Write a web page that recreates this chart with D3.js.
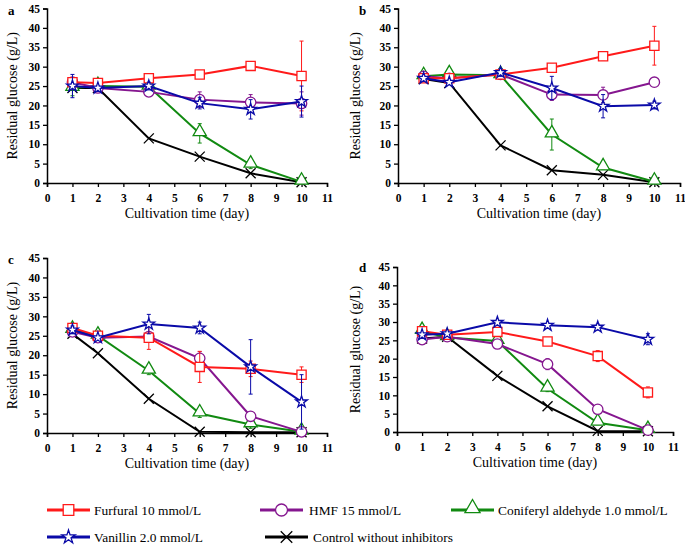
<!DOCTYPE html>
<html><head><meta charset="utf-8">
<script src="https://cdn.jsdelivr.net/npm/d3@7"></script>
<style>body{margin:0;background:#fff}svg{display:block}</style>
</head><body>
<script>
// ---- DATA ----
const days = [1, 2, 4, 6, 8, 10];
const xTicks = [0,1,2,3,4,5,6,7,8,9,10,11];
const yTicks = [0,5,10,15,20,25,30,35,40,45];
const panelLabels = ["a","b","c","d"];
const seriesNames = ["Furfural 10 mmol/L","HMF 15 mmol/L","Coniferyl aldehyde 1.0 mmol/L","Vanillin 2.0 mmol/L","Control without inhibitors"];

// panel a
const furfural_a = [26, 25.8, 27, 28, 30.2, 27.6];
const furfural_a_err = [1, 0.5, 1, 0.8, 0.5, 9];
const hmf_a = [26, 24.5, 23.5, 21.5, 20.8, 20.5];
const hmf_a_err = [1, 0.5, 0.5, 2, 2, 3];
const conif_a = [24.5, 25, 24.8, 12.8, 4.7, 0.3];
const conif_a_err = [2, 0.5, 0.5, 2.5, 1, 0.3];
const vanil_a = [25, 24.5, 25, 20.6, 19, 21];
const vanil_a_err = [3, 0.5, 1, 1.5, 2.5, 4];
const ctrl_a = [24.5, 24.5, 11.5, 6.8, 2.5, 0.2];

// panel b
const furfural_b = [27, 27, 28, 29.7, 32.7, 35.4];
const furfural_b_err = [1, 0.5, 0.5, 1, 1, 5];
const hmf_b = [27.5, 27, 28, 22.8, 22.7, 26];
const hmf_b_err = [1, 0.5, 0.5, 1.5, 2, 0.5];
const conif_b = [27.5, 28, 27.8, 12.5, 4, 0.3];
const conif_b_err = [0.5, 0.5, 0.5, 4, 0.5, 0.2];
const vanil_b = [27, 26, 28.5, 24.5, 19.8, 20.1];
const vanil_b_err = [0.5, 0.5, 1, 3, 3, 1];
const ctrl_b = [26.8, 25.8, 9.7, 3.3, 2.1, 0.2];

// panel c
const furfural_c = [27, 25, 24.5, 17, 16.5, 15];
const furfural_c_err = [1, 0.5, 3, 4, 2, 2];
const hmf_c = [26, 24.5, 24.8, 19.2, 4.3, 0.3];
const hmf_c_err = [0.5, 0.5, 0.5, 1.7, 1, 0.3];
const conif_c = [26.5, 25, 16, 5, 2.2, 0.3];
const conif_c_err = [1, 0.5, 1, 1, 1, 0.2];
const vanil_c = [26.5, 24.5, 28, 27, 17, 8];
const vanil_c_err = [1, 0.5, 2.5, 1.5, 7, 7];
const ctrl_c = [25.5, 20.5, 8.8, 0.3, 0.2, 0.2];

// panel d
const furfural_d = [27.5, 26.5, 27.3, 24.7, 20.7, 10.8];
const furfural_d_err = [0.5, 0.5, 0.5, 0.5, 1.5, 1.5];
const hmf_d = [25.2, 26, 24, 18.5, 6.2, 0.5];
const hmf_d_err = [0.5, 0.5, 0.5, 1.5, 0.5, 0.2];
const conif_d = [27.5, 25.8, 24.8, 11.8, 2.5, 0.5];
const conif_d_err = [0.5, 0.5, 0.5, 0.8, 0.5, 0.2];
const vanil_d = [26.5, 26.8, 29.9, 29.1, 28.6, 25.3];
const vanil_d_err = [0.5, 0.5, 0.5, 0.5, 0.8, 1.5];
const ctrl_d = [25.5, 26, 15.3, 7, 0.3, 0.2];

// ---- STYLE / LAYOUT ----
const colors = ["#ff1a1a", "#85168f", "#118a11", "#0a0aa8", "#000000"];
const symbols = ["square","circle","triangle","star","cross"];
const font = "'Liberation Serif','Times New Roman',serif";

const panels = [
  {x0:47, x1:327, yTop:8.5, yBot:183, lab:[8,15], ytx:12,
   s:[[furfural_a,furfural_a_err],[hmf_a,hmf_a_err],[conif_a,conif_a_err],[vanil_a,vanil_a_err],[ctrl_a,null]]},
  {x0:398, x1:680, yTop:8.5, yBot:183, lab:[359,15], ytx:355,
   s:[[furfural_b,furfural_b_err],[hmf_b,hmf_b_err],[conif_b,conif_b_err],[vanil_b,vanil_b_err],[ctrl_b,null]]},
  {x0:47, x1:327, yTop:258, yBot:433, lab:[8,264], ytx:12,
   s:[[furfural_c,furfural_c_err],[hmf_c,hmf_c_err],[conif_c,conif_c_err],[vanil_c,vanil_c_err],[ctrl_c,null]]},
  {x0:397, x1:673, yTop:267, yBot:432, lab:[359,272], ytx:355,
   s:[[furfural_d,furfural_d_err],[hmf_d,hmf_d_err],[conif_d,conif_d_err],[vanil_d,vanil_d_err],[ctrl_d,null]]}
];

const svg = d3.select("body").append("svg").attr("width",685).attr("height",546)
  .style("font-family", font);

function drawMarker(g, type, cx, cy, color, scale=1){
  if(type==="cross"){
    const h=5*scale;
    g.append("path").attr("d",`M${cx-h},${cy-h}L${cx+h},${cy+h}M${cx-h},${cy+h}L${cx+h},${cy-h}`)
      .attr("stroke",color).attr("stroke-width",1.3).attr("fill","none");
    return;
  }
  const map={square:d3.symbolSquare,circle:d3.symbolCircle,triangle:d3.symbolTriangle,star:d3.symbolStar};
  const size={square:85,circle:85,triangle:75,star:42}[type]*scale*scale;
  const dy = type==="triangle" ? -1.5*scale : 0;
  g.append("path").attr("d",d3.symbol().type(map[type]).size(size)())
    .attr("transform",`translate(${cx},${cy+dy})`)
    .attr("fill","#fff").attr("stroke",color).attr("stroke-width",1.3);
}

panels.forEach((p,pi)=>{
  const x = d3.scaleLinear().domain([0,11]).range([p.x0,p.x1]);
  const y = d3.scaleLinear().domain([0,45]).range([p.yBot,p.yTop]);
  const g = svg.append("g");

  const xa = g.append("g").attr("transform",`translate(0,${p.yBot})`)
    .call(d3.axisBottom(x).tickValues(xTicks).tickSize(4).tickFormat(d3.format("d")));
  const ya = g.append("g").attr("transform",`translate(${p.x0},0)`)
    .call(d3.axisLeft(y).tickValues(yTicks).tickSize(4).tickFormat(d3.format("d")));
  [xa,ya].forEach(a=>{
    a.select(".domain").attr("stroke","#000").attr("stroke-width",1.5);
    a.selectAll(".tick line").attr("stroke","#000").attr("stroke-width",1.3);
    a.selectAll("text").attr("font-family",font).attr("font-weight","bold")
      .attr("font-size",11.5).attr("fill","#000");
  });
  xa.selectAll("text").attr("dy","1.05em");
  ya.selectAll("text").attr("x",-7);

  g.append("text").attr("x",p.lab[0]).attr("y",p.lab[1]).text(panelLabels[pi])
    .attr("font-weight","bold").attr("font-size",13);
  g.append("text").attr("x",(p.x0+p.x1)/2).attr("y",p.yBot+35).attr("text-anchor","middle")
    .attr("font-size",14).text("Cultivation time (day)");
  g.append("text").attr("transform",`translate(${p.ytx},${(p.yTop+p.yBot)/2}) rotate(-90)`)
    .attr("text-anchor","middle").attr("dy","0.35em").attr("font-size",14).text("Residual glucose (g/L)");

  const order=[4,2,1,0,3];
  const line = d3.line().x((d,i)=>x(days[i])).y(d=>y(d));
  order.forEach(si=>{
    const [vals,errs]=p.s[si];
    const sg=g.append("g");
    sg.append("path").attr("d",line(vals)).attr("fill","none").attr("stroke",colors[si]).attr("stroke-width",2);
    if(errs){
      vals.forEach((v,i)=>{
        const cx=x(days[i]), t=y(v+errs[i]), b=y(Math.max(0,v-errs[i]));
        sg.append("path").attr("d",`M${cx},${t}L${cx},${b}M${cx-2},${t}L${cx+2},${t}M${cx-2},${b}L${cx+2},${b}`)
          .attr("stroke",colors[si]).attr("stroke-width",1).attr("fill","none");
      });
    }
    vals.forEach((v,i)=>drawMarker(sg,symbols[si],x(days[i]),y(v),colors[si]));
  });
});

// legend
const legend = [
  {i:0, x1:47, x2:90, tx:94, y:510},
  {i:1, x1:260, x2:303, tx:309, y:510},
  {i:2, x1:451, x2:494, tx:498, y:510},
  {i:3, x1:47, x2:90, tx:94, y:537},
  {i:4, x1:265, x2:308, tx:313, y:537}
];
const lg=svg.append("g");
legend.forEach(l=>{
  lg.append("line").attr("x1",l.x1).attr("x2",l.x2).attr("y1",l.y).attr("y2",l.y)
    .attr("stroke",colors[l.i]).attr("stroke-width",3);
  drawMarker(lg,symbols[l.i],(l.x1+l.x2)/2,l.y,colors[l.i],1.15);
  lg.append("text").attr("x",l.tx).attr("y",l.y).attr("dy","0.35em").attr("font-size",13.4)
    .text(seriesNames[l.i]);
});
</script>
</body></html>
